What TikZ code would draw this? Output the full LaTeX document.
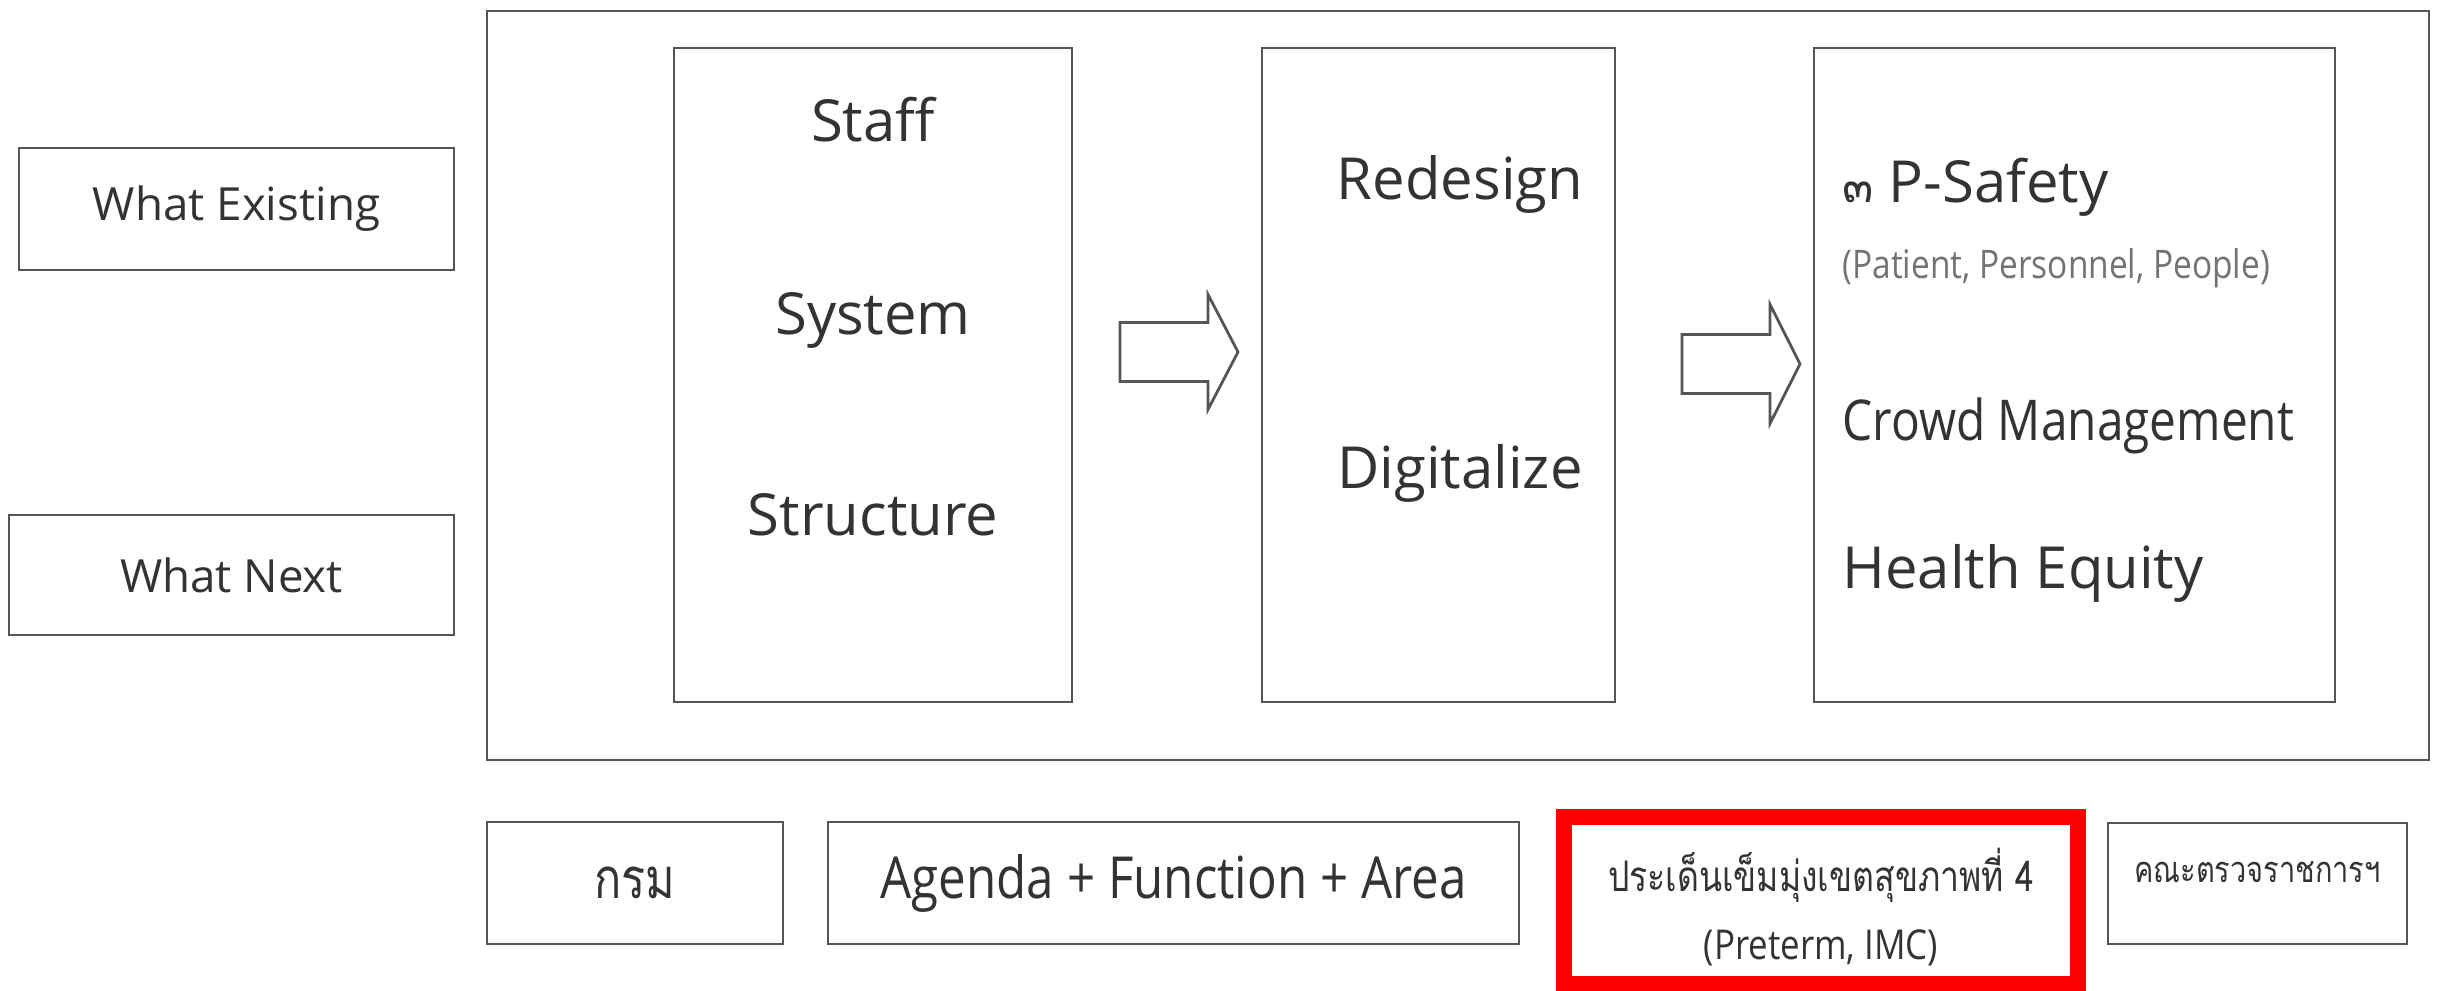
\documentclass[tikz,border=0pt]{standalone}
\usepackage{fontspec}
\setmainfont{Open Sans}
\newfontfamily\thaifont[Script=Thai]{Loma}
\newfontfamily\thaicond[Script=Thai,FakeStretch=0.8]{Loma}
\newfontfamily\condfont[FakeStretch=0.85]{Open Sans}
\usetikzlibrary{shapes,arrows,positioning,fit,calc}
\definecolor{linegray}{HTML}{555555}
\definecolor{textgray}{HTML}{333333}

\begin{document}
\begin{tikzpicture}[
  box/.style={draw=linegray, line width=0.8pt, inner sep=0pt},
  bigtext/.style={text=textgray, font=\fontsize{16.5}{19}\selectfont},
  sidetext/.style={text=textgray, font=\fontsize{13}{15}\selectfont}
]
\useasboundingbox (0,0) rectangle (24.46,9.90);

% Left labels
\node[box, sidetext, minimum width=4.35cm, minimum height=1.22cm] (exist) at (2.365,7.81) {What Existing};
\node[box, sidetext, minimum width=4.45cm, minimum height=1.20cm] (next) at (2.315,4.15) {What Next};

% Frame with the three columns
\node[box, minimum width=19.42cm, minimum height=7.49cm] (frame) at (14.58,6.045) {};
\node[box, minimum width=3.98cm, minimum height=6.54cm] (colA) at (8.73,6.15) {};
\node[box, minimum width=3.53cm, minimum height=6.54cm] (colB) at (14.385,6.15) {};
\node[box, minimum width=5.21cm, minimum height=6.54cm] (colC) at (20.745,6.15) {};

% Column A
\node[bigtext] (staff) at (8.73,8.70) {Staff};
\node[bigtext] (system) at (8.73,6.70) {System};
\node[bigtext] (structure) at (8.73,4.75) {Structure};

% Column B
\node[bigtext] (redesign) at (14.60,8.06) {Redesign};
\node[bigtext] (digital) at (14.60,5.17) {Digitalize};

% Column C
\node[bigtext, anchor=west] (psafety) at (18.30,8.03) {{\thaifont\fontsize{13}{15}\selectfont ๓}\ P-Safety};
\node[anchor=west, text=black!55, font=\condfont\fontsize{11.2}{13}\selectfont] (ppl) at (18.30,7.22) {(Patient, Personnel, People)};
\node[bigtext, anchor=west, font=\condfont\fontsize{16}{19}\selectfont] (crowd) at (18.30,5.64) {Crowd Management};
\node[bigtext, anchor=west] (equity) at (18.30,4.17) {Health Equity};

% Block arrows between the columns
\foreach \x/\y/\h in {11.20/6.38/0.575, 16.82/6.26/0.595}
  \draw[linegray, line width=0.8pt, line join=miter]
    (\x,\y+0.295) -- ++(0.88,0) -- (\x+0.88,\y+\h) -- (\x+1.18,\y)
    -- (\x+0.88,\y-\h) -- (\x+0.88,\y-0.295) -- (\x,\y-0.295) -- cycle;

% Bottom row
\node[box, bigtext, font=\thaicond\fontsize{16}{19}\selectfont, minimum width=2.96cm, minimum height=1.22cm] (krom) at (6.35,1.07) {กรม};
\node[box, bigtext, font=\condfont\fontsize{16.5}{19}\selectfont, minimum width=6.91cm, minimum height=1.22cm] (agenda) at (11.735,1.07) {Agenda + Function + Area};
\node[draw=red, line width=0.16cm, minimum width=5.14cm, minimum height=1.67cm] (zone) at (18.21,0.895) {};
\node[text=textgray, font=\thaicond\fontsize{12}{14}\selectfont] (zoneA) at (18.21,1.15) {ประเด็นเข็มมุ่งเขตสุขภาพที่ 4};
\node[text=textgray, font=\condfont\fontsize{11.7}{14}\selectfont] (zoneB) at (18.21,0.42) {(Preterm, IMC)};
\node[box, minimum width=2.99cm, minimum height=1.21cm] (inspect) at (22.575,1.065) {};
\node[text=textgray, font=\thaicond\fontsize{10.3}{12}\selectfont] (inspectT) at (22.575,1.18) {คณะตรวจราชการฯ};
\end{tikzpicture}
\end{document}
